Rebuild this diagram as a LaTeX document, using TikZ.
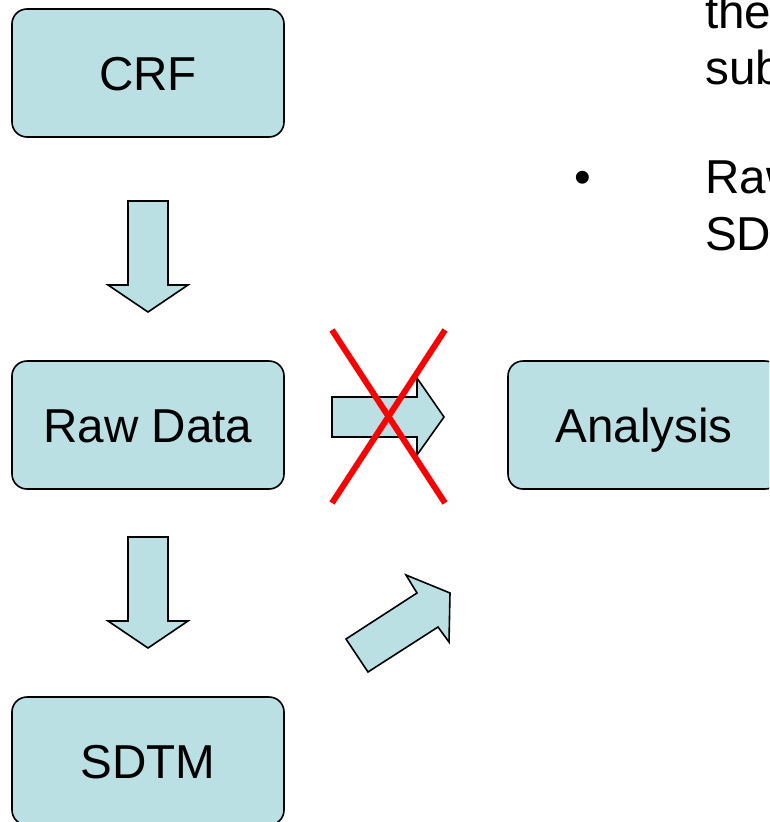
\documentclass[tikz,border=0pt]{standalone}
\usepackage{fontspec}
\setmainfont{Liberation Sans}
\definecolor{boxfill}{RGB}{187,224,227}
\definecolor{xred}{RGB}{255,0,0}
\tikzset{
  flowbox/.style={draw=black, line width=1.6pt, fill=boxfill, rounded corners=15pt,
    minimum width=272pt, minimum height=128pt, inner sep=0pt,
    text height=34pt, text depth=0pt, font=\fontsize{47.6}{56}\selectfont},
  blockarrow/.style={draw=black, line width=1.6pt, fill=boxfill, line join=miter},
  crossline/.style={draw=xred, line width=6pt},
  sidetext/.style={anchor=base west, inner sep=0pt, font=\fontsize{47.6}{56}\selectfont}
}
\begin{document}
\begin{tikzpicture}[x=1pt, y=-1pt]
\useasboundingbox (0,0) rectangle (769,822);
\clip (0,0) rectangle (769,822);
% boxes
\node[flowbox] (crf) at (148,73) {CRF};
\node[flowbox] (raw) at (148,425) {Raw Data};
\node[flowbox] (sdtm) at (148,761) {SDTM};
\node[flowbox] (analysis) at (644,425) {Analysis};
% down arrows
\draw[blockarrow] (128,201) -- (168,201) -- (168,285) -- (188,285) -- (148,312) -- (108,285) -- (128,285) -- cycle;
\draw[blockarrow] (128,537) -- (168,537) -- (168,621) -- (188,621) -- (148,648) -- (108,621) -- (128,621) -- cycle;
% right arrow (crossed)
\draw[blockarrow] (332,397) -- (417,397) -- (417,378) -- (444,417) -- (417,455) -- (417,437) -- (332,437) -- cycle;
% diagonal arrow
\draw[blockarrow] (346,639) -- (417,593) -- (406,575) -- (450,593) -- (449,642) -- (438,627) -- (368,672) -- cycle;
% red cross
\coordinate (x1) at (332,330);
\coordinate (x2) at (445,503);
\coordinate (x3) at (445,330);
\coordinate (x4) at (332,503);
\draw[crossline] (x1) -- (x2);
\draw[crossline] (x3) -- (x4);
% side text
\node[sidetext] (t1) at (705,28) {the};
\node[sidetext] (t2) at (705,84) {sub};
\node[anchor=base, inner sep=0pt, font=\fontsize{47.6}{56}\selectfont] (bul) at (583,193) {•};
\node[sidetext] (t3) at (705,193) {Raw};
\node[sidetext] (t4) at (705,250) {SD};
\end{tikzpicture}
\end{document}
